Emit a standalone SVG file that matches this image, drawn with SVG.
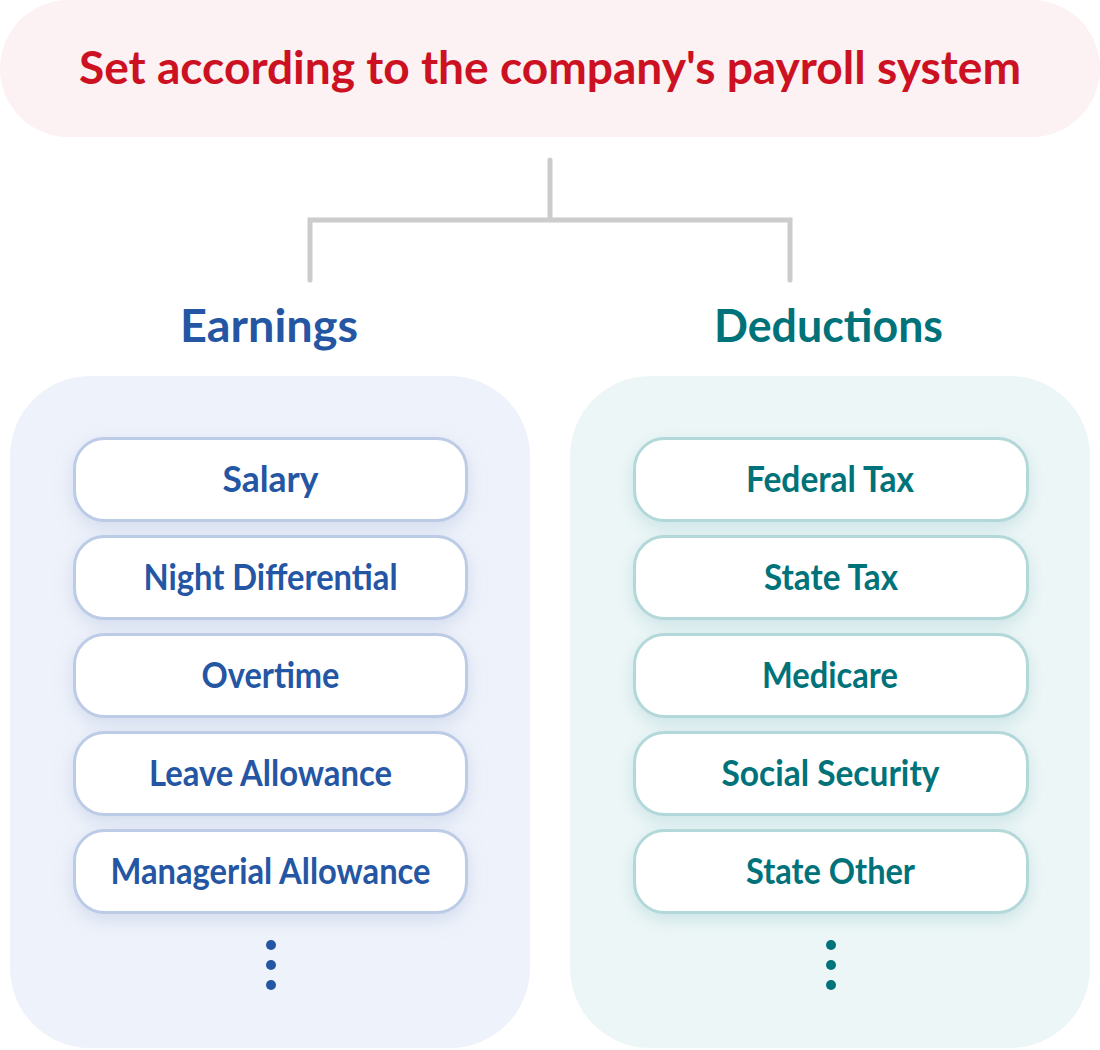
<svg xmlns="http://www.w3.org/2000/svg" width="1100" height="1050" viewBox="0 0 1100 1050">
<defs>
<filter id="shB" x="-20%" y="-40%" width="140%" height="200%">
<feDropShadow dx="0" dy="6" stdDeviation="9" flood-color="#9fb2d6" flood-opacity="0.35"/>
</filter>
<filter id="shT" x="-20%" y="-40%" width="140%" height="200%">
<feDropShadow dx="0" dy="6" stdDeviation="9" flood-color="#8fc2c6" flood-opacity="0.35"/>
</filter>
<style>
text{font-family:Lato,"Noto Sans","Liberation Sans",sans-serif;font-weight:700;text-anchor:middle}
.title{font-size:45px;fill:#cc1122}
.head{font-size:46px}
.item{font-size:36px}
.blue{fill:#2456a4}
.teal{fill:#00727a}
.boxB{fill:#ffffff;stroke:#bccbe6;stroke-width:3;filter:url(#shB)}
.boxT{fill:#ffffff;stroke:#b3d8da;stroke-width:3;filter:url(#shT)}
.conn{fill:none;stroke:#cccccc;stroke-width:5;stroke-linecap:round;stroke-linejoin:miter}
</style>
</defs>
<rect width="1100" height="1050" fill="#ffffff"/>
<g id="banner">
<rect x="0" y="0" width="1100" height="137" rx="68.5" fill="#fcf1f3"/>
<text class="title" x="550" y="84" textLength="942" lengthAdjust="spacingAndGlyphs">Set according to the company's payroll system</text>
</g>
<g id="connectors">
<path class="conn" d="M550 160 V220 M310 280 V220 H790 V280"/>
</g>
<g id="earnings">
<text class="head blue" x="269" y="342" textLength="178" lengthAdjust="spacingAndGlyphs">Earnings</text>
<rect x="10" y="376" width="520" height="672" rx="80" fill="#eef2fa"/>
<g id="salary"><rect class="boxB" x="74.5" y="438.5" width="392" height="82" rx="30"/><text class="item blue" x="270.5" y="492" textLength="96" lengthAdjust="spacingAndGlyphs">Salary</text></g>
<g id="night"><rect class="boxB" x="74.5" y="536.5" width="392" height="82" rx="30"/><text class="item blue" x="270.5" y="590" textLength="254" lengthAdjust="spacingAndGlyphs">Night Differential</text></g>
<g id="overtime"><rect class="boxB" x="74.5" y="634.5" width="392" height="82" rx="30"/><text class="item blue" x="270.5" y="688" textLength="138" lengthAdjust="spacingAndGlyphs">Overtime</text></g>
<g id="leave"><rect class="boxB" x="74.5" y="732.5" width="392" height="82" rx="30"/><text class="item blue" x="270.5" y="786" textLength="243" lengthAdjust="spacingAndGlyphs">Leave Allowance</text></g>
<g id="managerial"><rect class="boxB" x="74.5" y="830.5" width="392" height="82" rx="30"/><text class="item blue" x="270.5" y="884" textLength="320" lengthAdjust="spacingAndGlyphs">Managerial Allowance</text></g>
<g id="earnings-more" fill="#2456a4"><circle cx="271" cy="945" r="5"/><circle cx="271" cy="965" r="5"/><circle cx="271" cy="985" r="5"/></g>
</g>
<g id="deductions">
<text class="head teal" x="828.5" y="342" textLength="229" lengthAdjust="spacingAndGlyphs">Deductions</text>
<rect x="570" y="376" width="520" height="672" rx="80" fill="#edf6f7"/>
<g id="federal"><rect class="boxT" x="634.5" y="438.5" width="393" height="82" rx="30"/><text class="item teal" x="830" y="492" textLength="168" lengthAdjust="spacingAndGlyphs">Federal Tax</text></g>
<g id="state"><rect class="boxT" x="634.5" y="536.5" width="393" height="82" rx="30"/><text class="item teal" x="831" y="590" textLength="134" lengthAdjust="spacingAndGlyphs">State Tax</text></g>
<g id="medicare"><rect class="boxT" x="634.5" y="634.5" width="393" height="82" rx="30"/><text class="item teal" x="830" y="688" textLength="136" lengthAdjust="spacingAndGlyphs">Medicare</text></g>
<g id="social"><rect class="boxT" x="634.5" y="732.5" width="393" height="82" rx="30"/><text class="item teal" x="830.5" y="786" textLength="218" lengthAdjust="spacingAndGlyphs">Social Security</text></g>
<g id="other"><rect class="boxT" x="634.5" y="830.5" width="393" height="82" rx="30"/><text class="item teal" x="830.5" y="884" textLength="169" lengthAdjust="spacingAndGlyphs">State Other</text></g>
<g id="deductions-more" fill="#00727a"><circle cx="831" cy="945" r="5"/><circle cx="831" cy="965" r="5"/><circle cx="831" cy="985" r="5"/></g>
</g>
</svg>
